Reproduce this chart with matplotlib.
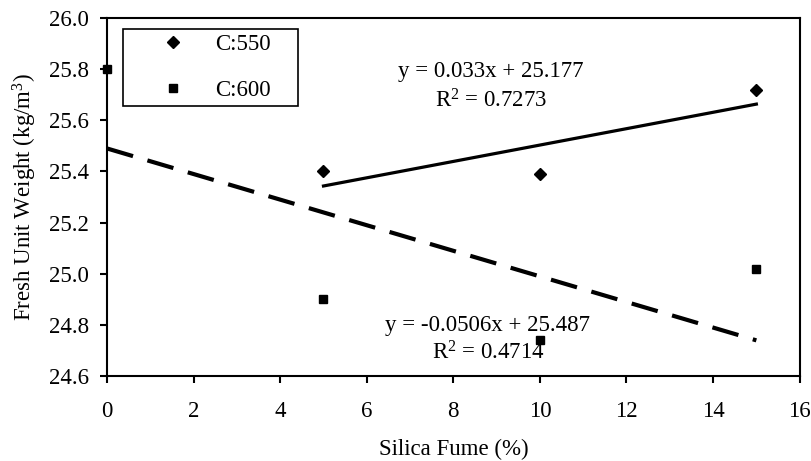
import matplotlib
matplotlib.use("Agg")
import matplotlib.pyplot as plt
import numpy as np

# --- Data ---
silica_550 = [5, 10, 15]
weight_550 = [25.40, 25.39, 25.72]

silica_600 = [0, 5, 10, 15]
weight_600 = [25.80, 24.90, 24.74, 25.02]

x_ticks = [0, 2, 4, 6, 8, 10, 12, 14, 16]
y_ticks = [24.6, 24.8, 25.0, 25.2, 25.4, 25.6, 25.8, 26.0]

plt.rcParams['font.family'] = ['Liberation Serif', 'DejaVu Serif']
plt.rcParams['mathtext.fontset'] = 'custom'
plt.rcParams['mathtext.rm'] = 'Liberation Serif'
plt.rcParams['mathtext.it'] = 'Liberation Serif'
plt.rcParams['mathtext.default'] = 'regular'
FS = 16.5

fig = plt.figure(figsize=(8.11, 4.61), dpi=100)
ax = fig.add_axes([0.132, 0.184, 0.854, 0.777])

# scatter points
ax.plot(silica_550, weight_550, linestyle='none', marker='D', markersize=6,
        color='black', label='C:550', clip_on=False, zorder=3)
ax.plot(silica_600, weight_600, linestyle='none', marker='s', markersize=6,
        color='black', label='C:600', clip_on=False, zorder=3)

# linear trendlines (least squares, like Excel)
k1, b1 = np.polyfit(silica_550, weight_550, 1)
xs1 = np.array([min(silica_550), max(silica_550)])
ax.plot(xs1, k1 * xs1 + b1, color='black', lw=2.3)

k2, b2 = np.polyfit(silica_600, weight_600, 1)
xs2 = np.array([min(silica_600), max(silica_600)])
ax.plot(xs2, k2 * xs2 + b2, color='black', lw=3, linestyle=(0, (6.5, 3.6)))

ax.text(8.87, 25.79, "y = 0.033x + 25.177", ha='center', va='center', fontsize=FS)
ax.text(8.87, 25.675, "R$^2$ = 0.7273", ha='center', va='center', fontsize=FS)
ax.text(8.8, 24.8, "y = -0.0506x + 25.487", ha='center', va='center', fontsize=FS)
ax.text(8.8, 24.69, "R$^2$ = 0.4714", ha='center', va='center', fontsize=FS)

ax.set_xlim(0, 16)
ax.set_ylim(24.6, 26.0)
ax.set_xticks(x_ticks)
ax.set_yticks(y_ticks)
ax.set_yticklabels([f"{v:.1f}" for v in y_ticks])
ax.tick_params(direction='out', length=5, width=1.5, labelsize=FS)
ax.tick_params(axis='x', pad=13)
ax.tick_params(axis='y', pad=8)
for s in ax.spines.values():
    s.set_linewidth(1.5)

ax.set_xlabel("Silica Fume (%)", fontsize=FS, labelpad=12)
ax.set_ylabel("Fresh Unit Weight (kg/m$^3$)", fontsize=FS, labelpad=7)

# legend box stretched to the width seen in the reference
leg = ax.legend(loc='upper left', bbox_to_anchor=(0.023, 0.0, 0.2525, 0.969),
                mode='expand', frameon=True,
                fancybox=False, edgecolor='black', framealpha=1,
                borderaxespad=0, handletextpad=-0.1, labelspacing=1.07,
                borderpad=0.22, handlelength=3.9, fontsize=FS)
leg.get_frame().set_linewidth(1.2)

plt.savefig("out.png", dpi=100)
